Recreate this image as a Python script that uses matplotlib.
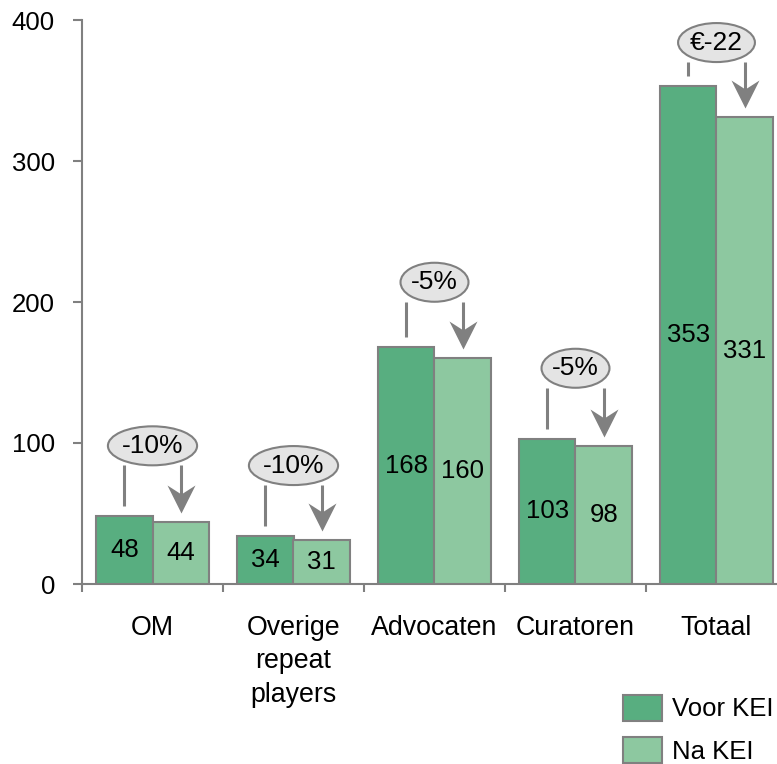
import matplotlib
matplotlib.use("Agg")
import matplotlib.pyplot as plt
from matplotlib.patches import Ellipse
from matplotlib.path import Path

plt.rcParams['font.family'] = ['Liberation Sans', 'DejaVu Sans']

categories = ["OM", "Overige\nrepeat\nplayers", "Advocaten", "Curatoren", "Totaal"]
voor_kei = [48, 34, 168, 103, 353]
na_kei = [44, 31, 160, 98, 331]
change_labels = ["-10%", "-10%", "-5%", "-5%", "€-22"]
bubble_y = [98, 84, 214, 153, 384]
series_labels = ["Voor KEI", "Na KEI"]
yticks = [0, 100, 200, 300, 400]

dark = "#58AE80"
light = "#8DC8A0"
gray = "#808080"
fs = 18.5

W, H = 777, 764
fig = plt.figure(figsize=(W / 100, H / 100), dpi=100)
ax = fig.add_axes([82 / W, 180 / H, (787 - 82) / W, (584 - 20) / H])

n = len(categories)
x = list(range(n))
bw = 0.4
b1 = ax.bar([i - bw / 2 for i in x], voor_kei, bw, color=dark, edgecolor=gray,
            linewidth=1.5, label=series_labels[0], zorder=3)
b2 = ax.bar([i + bw / 2 for i in x], na_kei, bw, color=light, edgecolor=gray,
            linewidth=1.5, label=series_labels[1], zorder=3)

for i in x:
    ax.text(i - bw / 2, voor_kei[i] / 2, str(voor_kei[i]), ha="center", va="center",
            fontsize=fs, zorder=5)
    ax.text(i + bw / 2, na_kei[i] / 2, str(na_kei[i]), ha="center", va="center",
            fontsize=fs, zorder=5)

ax.set_xlim(-0.5, n - 0.5)
ax.set_ylim(0, 400)

# unit conversions
px_per_y = (584 - 20) / 400.0
px_per_x = (787 - 82) / n
ell_h = 39 / px_per_y
gap = 10 / px_per_y

# notched arrow-head marker, tip at origin, pointing down
head = Path([(0, 0), (-0.5, 1.0), (0, 0.68), (0.5, 1.0), (0, 0)],
            [Path.MOVETO, Path.LINETO, Path.LINETO, Path.LINETO, Path.CLOSEPOLY])
head_len_pt = 28 * 0.72

fig.canvas.draw()
renderer = fig.canvas.get_renderer()
for i in x:
    t = ax.text(i, bubble_y[i], change_labels[i], ha="center", va="center",
                fontsize=19, zorder=7)
    bb = t.get_window_extent(renderer)
    ew = bb.width * 1.45 / px_per_x
    e = Ellipse((i, bubble_y[i]), ew, ell_h, facecolor="#E4E4E4", edgecolor=gray,
                linewidth=1.5, zorder=6)
    ax.add_patch(e)
    ybot = bubble_y[i] - ell_h / 2
    ax.plot([i - bw / 2, i - bw / 2], [ybot, voor_kei[i] + gap], color=gray,
            linewidth=2.2, zorder=4, solid_capstyle="butt")
    tip = na_kei[i] + gap * 0.9
    ax.plot([i + bw / 2, i + bw / 2], [ybot, tip + 15 / px_per_y], color=gray,
            linewidth=2.2, zorder=4, solid_capstyle="butt")
    ax.plot([i + bw / 2], [tip], marker=head, markersize=2 * head_len_pt,
            color=gray, markeredgewidth=0, linestyle="none", zorder=4)

for s in ["top", "right"]:
    ax.spines[s].set_visible(False)
for s in ["left", "bottom"]:
    ax.spines[s].set_color(gray)
    ax.spines[s].set_linewidth(1.5)

ax.set_yticks(yticks)
ax.tick_params(axis="y", direction="out", length=6.5, width=1.5, color=gray,
               pad=13, labelsize=fs)
ax.set_xticks(x)
ax.set_xticklabels(categories, linespacing=1.38)
ax.tick_params(axis="x", which="major", length=0, pad=22, labelsize=19.3)
ax.set_xticks([i - 0.5 for i in range(n + 1)], minor=True)
ax.tick_params(axis="x", which="minor", direction="out", length=6, width=1.5, color=gray)

fig.legend(handles=[b1, b2], labels=series_labels, loc="upper left",
           bbox_to_anchor=(623 / W, 1 - 695 / H), frameon=False, fontsize=fs,
           handlelength=1.5, handleheight=1.15, handletextpad=0.4,
           labelspacing=0.62, borderpad=0, borderaxespad=0)

fig.savefig("out.png", dpi=100)
